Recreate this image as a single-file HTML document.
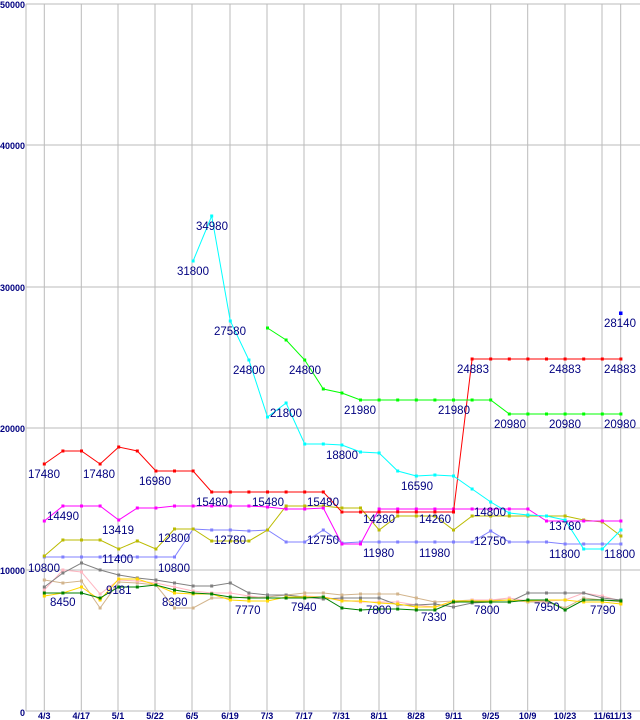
<!DOCTYPE html>
<html><head><meta charset="utf-8"><style>
html,body{margin:0;padding:0;background:#fff;}
svg{display:block;}
</style></head><body>
<svg id="s" width="640" height="720" xmlns="http://www.w3.org/2000/svg" font-family="Liberation Sans, sans-serif"></svg>
<script>
var s=document.getElementById('s');var h='';
function X(i){return 44.3+18.6*i;}
h+='<rect x="0" y="0" width="640" height="720" fill="#fff"/>';
[4,145,287,428,570,711].forEach(function(y){h+='<line x1="26" y1="'+y+'" x2="640" y2="'+y+'" stroke="#bbb" stroke-width="1"/>';});
h+='<line x1="26" y1="4" x2="26" y2="711" stroke="#bbb"/>';
var xs=[[44.3,'4/3'],[81.3,'4/17'],[118,'5/1'],[155,'5/22'],[192,'6/5'],[230,'6/19'],[267,'7/3'],[304,'7/17'],[341,'7/31'],[379,'8/11'],[416,'8/28'],[453.7,'9/11'],[490.7,'9/25'],[527.7,'10/9'],[565,'10/23'],[602,'11/6'],[620.7,'11/13']];
xs.forEach(function(a){h+='<line x1="'+a[0]+'" y1="4" x2="'+a[0]+'" y2="711" stroke="#bbb"/>';
h+='<text x="'+a[0]+'" y="719" font-size="9" font-weight="bold" fill="#000080" text-anchor="middle">'+a[1]+'</text>';});
[[5,'50000'],[146,'40000'],[288,'30000'],[429,'20000'],[571,'10000'],[713,'0']].forEach(function(a){h+='<text x="25" y="'+(a[0]+3)+'" font-size="9" font-weight="bold" fill="#000080" text-anchor="end">'+a[1]+'</text>';});
function ser(col,start,ys,w){var p=[];for(var k=0;k<ys.length;k++){p.push(X(start+k).toFixed(1)+','+ys[k]);}
h+='<polyline points="'+p.join(' ')+'" fill="none" stroke="'+col+'" stroke-width="'+(w||1)+'"/>';
for(var k=0;k<ys.length;k++){h+='<rect x="'+(X(start+k)-1.5)+'" y="'+(ys[k]-1.5)+'" width="3" height="3" fill="'+col+'"/>';}}
ser('#d2b48c',0,[580,583,581,608,582,583,585,608,608,598,598,597,597,595,593,593,595,594,594,594,598,602,601,600,600,600,602,602,608,598,600,602]);
ser('#ffb6c1',0,[590,570,572,594,580,581,583,587,591,593,593,596,598,598,596,597,600,602,602,602,605,607,603,600,600,598,601,601,600,593,596,601]);
ser('#808080',0,[587,573,563,570,575,578,580,583,586,586,583,593,595,595,597,599,598,598,598,605,605,604,607,603,602,602,593,593,593,593,598,600]);
ser('#ffd700',0,[596,593,587,600,579,579,585,593,594,594,600,601,601,597,597,597,601,601,603,604,607,607,601,601,601,600,601,600,600,602,602,604]);
ser('#008000',0,[593,593,593,598,587,587,585,590,593,594,597,598,598,598,598,597,608,610,609,609,610,610,602,602,602,602,600,600,610,600,600,601]);
ser('#8080ff',0,[557,557,557,557,557,557,557,557,529,530,530,531,530,542,542,530,543,542,542,542,542,542,542,542,531,542,542,542,544,544,544,544]);
ser('#bbbb00',0,[556,540,540,540,549,541,549,529,529,541,541,541,530,506,506,506,508,508,530,516,516,516,530,516,516,516,516,516,516,520,522,536]);
ser('#ff00ff',0,[521,506,506,506,520,508,508,506,506,506,506,506,507,509,509,508,544,544,509,509,509,509,509,509,509,509,509,521,521,521,521,521]);
ser('#ff0000',0,[464,451,451,464,447,451,471,471,471,492,492,492,492,492,492,492,512,512,512,512,512,512,512,359,359,359,359,359,359,359,359,359]);
ser('#00ffff',8,[261,216,321,360,417,403,444,444,445,452,453,471,476,475,476,489,502,513,515,516,520,549,549,530]);
ser('#00ff00',12,[328,340,360,389,393,400,400,400,400,400,400,400,400,414,414,414,414,414,414,414]);
h+='<rect x="619" y="311.5" width="3.5" height="3.5" fill="#0000ff"/>';
var L=[['17480',28,478],['17480',83,478],['16980',139,485],['15480',196,506],['15480',252,506],['15480',307,506],['24883',457,373],['24883',549,373],['24883',604,373],['31800',177,275],['34980',196,230],['27580',214,335],['24800',233,374],['21800',270,417],['24800',289,374],['21980',344,414],['21980',438,414],['18800',326,459],['16590',401,490],['20980',494,428],['20980',549,428],['20980',604,428],['28140',604,327],['14490',47,520],['13419',102,534],['12800',158,542],['12780',214,544],['12750',307,544],['14280',363,523],['14260',419,523],['14800',474,516],['13780',549,530],['12750',474,545],['11980',363,557],['11980',419,557],['11800',549,558],['11800',604,558],['10800',28,572],['11400',102,563],['10800',158,572],['9181',106,594],['8450',50,606],['8380',162,606],['7770',235,614],['7940',291,611],['7800',366,614],['7330',421,621],['7800',474,614],['7950',534,611],['7790',590,614]];
L.forEach(function(a){h+='<text x="'+a[1]+'" y="'+a[2]+'" font-size="11.5" fill="#000080">'+a[0]+'</text>';});
s.innerHTML=h;
</script>
</body></html>
